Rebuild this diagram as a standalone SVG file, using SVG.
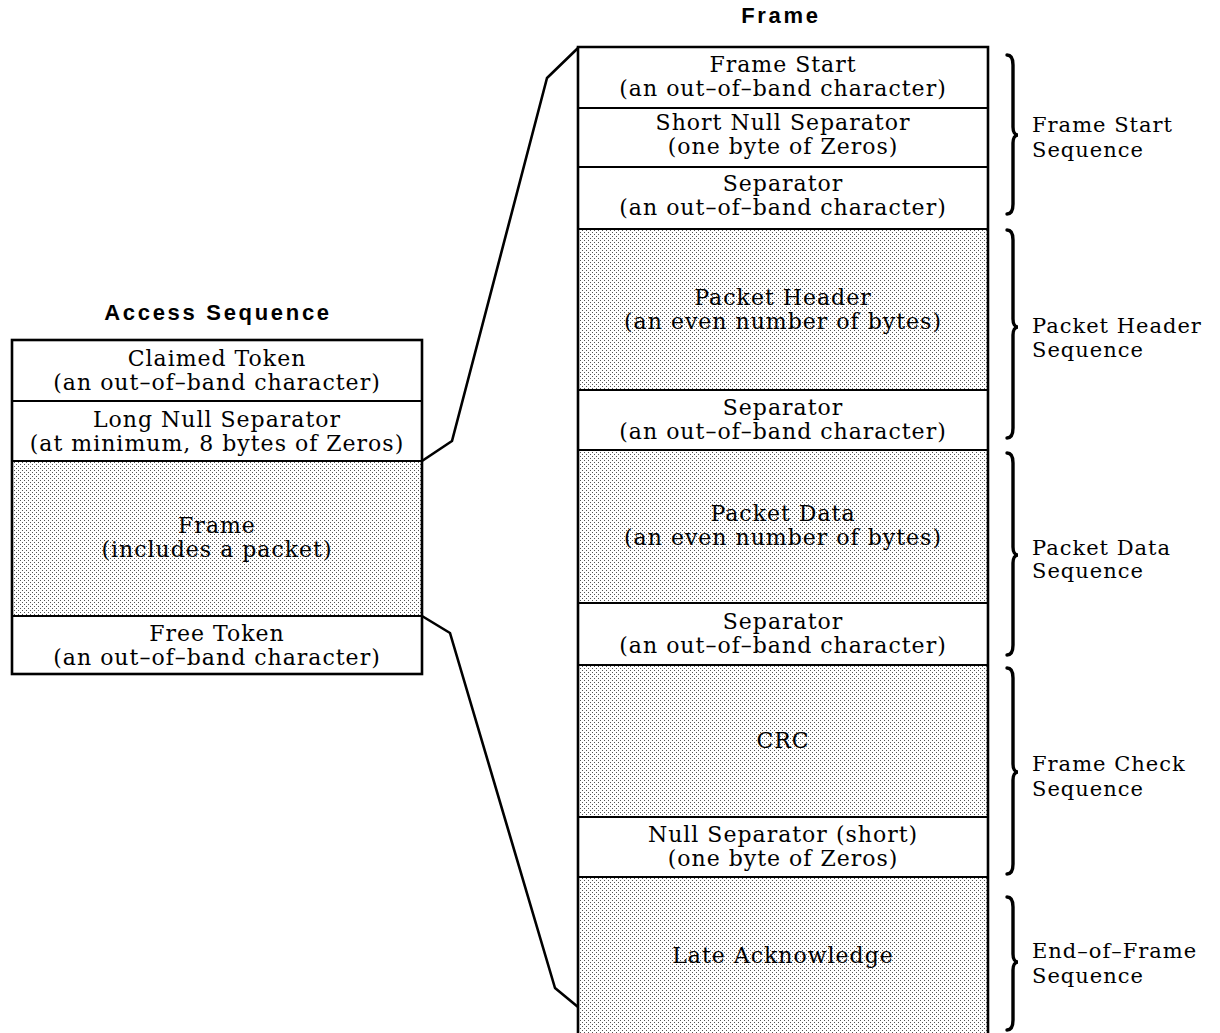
<svg xmlns="http://www.w3.org/2000/svg" width="1220" height="1033" viewBox="0 0 1220 1033">
  <defs>
    <pattern id="stipple" width="4" height="4" patternUnits="userSpaceOnUse">
      <rect width="4" height="4" fill="#ffffff"/>
      <rect x="0" y="0" width="1" height="1" fill="#555"/>
      <rect x="2" y="2" width="1" height="1" fill="#555"/>
    </pattern>
  </defs>
  <style>
    .t { font-family: "DejaVu Serif", "Liberation Serif", serif; font-size: 22px; letter-spacing: 1px; fill: #000; text-anchor: middle; }
    .b { font-family: "DejaVu Serif", "Liberation Serif", serif; font-size: 21px; letter-spacing: 1px; fill: #000; }
    .h { font-family: "Liberation Sans", Arial, sans-serif; font-size: 22px; font-weight: bold; letter-spacing: 2.7px; fill: #000; text-anchor: middle; }
    .w { fill: #fff; }
    .s { fill: url(#stipple); }
    .div { stroke: #000; stroke-width: 2; fill: none; }
    .frame { stroke: #000; stroke-width: 2.6; fill: none; }
    .con { stroke: #000; stroke-width: 2.6; fill: none; stroke-linejoin: round; }
    .brace { stroke: #000; stroke-width: 3.4; fill: none; stroke-linecap: round; }
  </style>
  <rect width="1220" height="1033" fill="#fff"/>

  <text class="h" x="781" y="23">Frame</text>
  <text class="h" x="218" y="320">Access Sequence</text>

  <!-- Access sequence column -->
  <g id="access-sequence">
    <g id="claimed-token">
      <rect class="w" x="12" y="340" width="410" height="61"/>
      <text class="t" x="217" y="366">Claimed Token</text>
      <text class="t" x="217" y="390">(an out–of–band character)</text>
    </g>
    <g id="long-null-separator">
      <rect class="w" x="12" y="401" width="410" height="60"/>
      <text class="t" x="217" y="427">Long Null Separator</text>
      <text class="t" x="217" y="451">(at minimum, 8 bytes of Zeros)</text>
    </g>
    <g id="access-frame">
      <rect class="s" x="12" y="461" width="410" height="155"/>
      <text class="t" x="217" y="533">Frame</text>
      <text class="t" x="217" y="557">(includes a packet)</text>
    </g>
    <g id="free-token">
      <rect class="w" x="12" y="616" width="410" height="58"/>
      <text class="t" x="217" y="641">Free Token</text>
      <text class="t" x="217" y="665">(an out–of–band character)</text>
    </g>
    <line class="div" x1="12" y1="401" x2="422" y2="401"/>
    <line class="div" x1="12" y1="461" x2="422" y2="461"/>
    <line class="div" x1="12" y1="616" x2="422" y2="616"/>
    <rect class="frame" x="12" y="340" width="410" height="334"/>
  </g>

  <!-- Frame column -->
  <g id="frame">
    <g id="frame-start">
      <rect class="w" x="578" y="47" width="410" height="61"/>
      <text class="t" x="783" y="72">Frame Start</text>
      <text class="t" x="783" y="96">(an out–of–band character)</text>
    </g>
    <g id="short-null-separator">
      <rect class="w" x="578" y="108" width="410" height="59"/>
      <text class="t" x="783" y="130">Short Null Separator</text>
      <text class="t" x="783" y="154">(one byte of Zeros)</text>
    </g>
    <g id="separator-1">
      <rect class="w" x="578" y="167" width="410" height="62"/>
      <text class="t" x="783" y="191">Separator</text>
      <text class="t" x="783" y="215">(an out–of–band character)</text>
    </g>
    <g id="packet-header">
      <rect class="s" x="578" y="229" width="410" height="161"/>
      <text class="t" x="783" y="305">Packet Header</text>
      <text class="t" x="783" y="329">(an even number of bytes)</text>
    </g>
    <g id="separator-2">
      <rect class="w" x="578" y="390" width="410" height="60"/>
      <text class="t" x="783" y="415">Separator</text>
      <text class="t" x="783" y="439">(an out–of–band character)</text>
    </g>
    <g id="packet-data">
      <rect class="s" x="578" y="450" width="410" height="153"/>
      <text class="t" x="783" y="521">Packet Data</text>
      <text class="t" x="783" y="545">(an even number of bytes)</text>
    </g>
    <g id="separator-3">
      <rect class="w" x="578" y="603" width="410" height="62"/>
      <text class="t" x="783" y="629">Separator</text>
      <text class="t" x="783" y="653">(an out–of–band character)</text>
    </g>
    <g id="crc">
      <rect class="s" x="578" y="665" width="410" height="152"/>
      <text class="t" x="783" y="748">CRC</text>
    </g>
    <g id="null-separator-short">
      <rect class="w" x="578" y="817" width="410" height="60"/>
      <text class="t" x="783" y="842">Null Separator (short)</text>
      <text class="t" x="783" y="866">(one byte of Zeros)</text>
    </g>
    <g id="late-acknowledge">
      <rect class="s" x="578" y="877" width="410" height="160"/>
      <text class="t" x="783" y="963">Late Acknowledge</text>
    </g>
    <line class="div" x1="578" y1="108" x2="988" y2="108"/>
    <line class="div" x1="578" y1="167" x2="988" y2="167"/>
    <line class="div" x1="578" y1="229" x2="988" y2="229"/>
    <line class="div" x1="578" y1="390" x2="988" y2="390"/>
    <line class="div" x1="578" y1="450" x2="988" y2="450"/>
    <line class="div" x1="578" y1="603" x2="988" y2="603"/>
    <line class="div" x1="578" y1="665" x2="988" y2="665"/>
    <line class="div" x1="578" y1="817" x2="988" y2="817"/>
    <line class="div" x1="578" y1="877" x2="988" y2="877"/>
    <path class="frame" d="M578,1040 L578,47 L988,47 L988,1040"/>
  </g>

  <!-- Connectors (expansion lines) -->
  <g id="connectors">
    <polyline class="con" points="422,461 452,441 547,78 578,48"/>
    <polyline class="con" points="422,616 450,633 555,988 578,1007"/>
  </g>

  <!-- Braces and sequence labels -->
  <g id="frame-start-sequence">
    <path class="brace" d="M1007,55 C1012,55 1013,59 1013,65 L1013,127 C1013,132 1015,135 1018,135 C1015,135 1013,138 1013,143 L1013,204 C1013,210 1012,214 1007,214"/>
    <text class="b" x="1032" y="132">Frame Start</text>
    <text class="b" x="1032" y="157">Sequence</text>
  </g>
  <g id="packet-header-sequence">
    <path class="brace" d="M1007,230 C1012,230 1013,234 1013,240 L1013,319 C1013,324 1015,327 1018,327 C1015,327 1013,330 1013,335 L1013,428 C1013,434 1012,438 1007,438"/>
    <text class="b" x="1032" y="333">Packet Header</text>
    <text class="b" x="1032" y="357">Sequence</text>
  </g>
  <g id="packet-data-sequence">
    <path class="brace" d="M1007,453 C1012,453 1013,457 1013,463 L1013,547 C1013,552 1015,555 1018,555 C1015,555 1013,558 1013,563 L1013,645 C1013,651 1012,655 1007,655"/>
    <text class="b" x="1032" y="555">Packet Data</text>
    <text class="b" x="1032" y="578">Sequence</text>
  </g>
  <g id="frame-check-sequence">
    <path class="brace" d="M1007,668 C1012,668 1013,672 1013,678 L1013,764 C1013,769 1015,772 1018,772 C1015,772 1013,775 1013,780 L1013,864 C1013,870 1012,874 1007,874"/>
    <text class="b" x="1032" y="771">Frame Check</text>
    <text class="b" x="1032" y="796">Sequence</text>
  </g>
  <g id="end-of-frame-sequence">
    <path class="brace" d="M1007,897 C1012,897 1013,901 1013,907 L1013,954 C1013,959 1015,962 1018,962 C1015,962 1013,965 1013,970 L1013,1020 C1013,1026 1012,1030 1007,1030"/>
    <text class="b" x="1032" y="958">End–of–Frame</text>
    <text class="b" x="1032" y="983">Sequence</text>
  </g>
</svg>
